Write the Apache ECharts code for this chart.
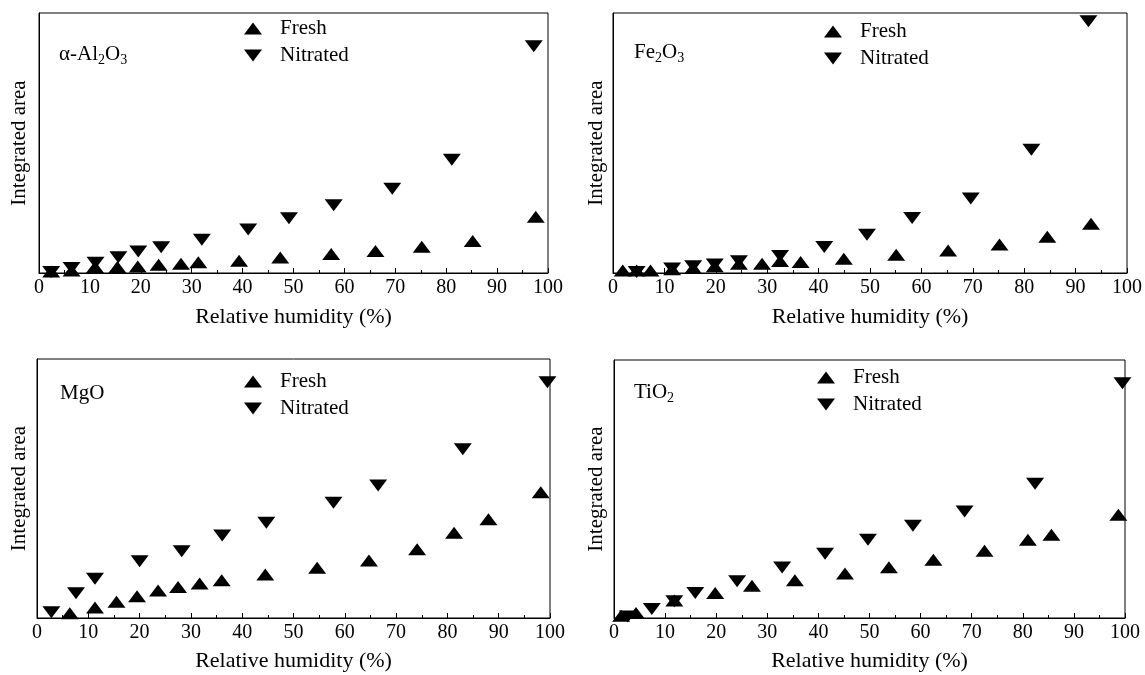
<!DOCTYPE html>
<html>
<head>
<meta charset="utf-8">
<script src="https://cdn.jsdelivr.net/npm/echarts@6/dist/echarts.min.js"></script>
<style>
  html, body { margin: 0; padding: 0; background: #fff; }
  #main { width: 1145px; height: 675px; }
</style>
</head>
<body>
<div id="main"></div>
<script>
// relative humidity (%) and integrated area (% of full y scale) per oxide
const al2o3FreshRH = [2.4, 6.4, 11.0, 15.4, 19.4, 23.5, 27.9, 31.3, 39.3, 47.4, 57.4, 66.1, 75.2, 85.2, 97.6];
const al2o3FreshArea = [0.6, 1.0, 2.3, 2.3, 2.5, 3.2, 3.6, 4.1, 4.7, 6.0, 7.3, 8.5, 10.1, 12.3, 21.6];
const al2o3NitratedRH = [2.4, 6.4, 11.1, 15.6, 19.5, 24.0, 32.0, 41.1, 49.1, 57.9, 69.4, 81.1, 97.2];
const al2o3NitratedArea = [0.4, 1.9, 3.9, 6.1, 8.3, 9.9, 12.8, 16.7, 21.1, 26.1, 32.4, 43.6, 87.2];

const fe2o3FreshRH = [1.9, 4.6, 7.3, 11.5, 15.6, 19.8, 24.5, 29.0, 32.5, 36.5, 44.9, 55.1, 65.2, 75.2, 84.5, 93.0];
const fe2o3FreshArea = [1.0, 1.0, 1.0, 1.4, 1.9, 2.6, 3.6, 3.6, 4.6, 4.2, 5.5, 7.0, 8.7, 11.0, 13.9, 18.9];
const fe2o3NitratedRH = [4.6, 11.5, 15.6, 19.8, 24.5, 32.5, 41.1, 49.4, 58.2, 69.6, 81.4, 92.5];
const fe2o3NitratedArea = [0.4, 1.7, 2.6, 3.3, 4.5, 6.5, 10.0, 14.7, 21.2, 28.7, 47.4, 96.8];

const mgoFreshRH = [6.4, 11.3, 15.5, 19.5, 23.6, 27.5, 31.7, 36.0, 44.5, 54.6, 64.7, 74.1, 81.3, 88.0, 98.2];
const mgoFreshArea = [1.8, 4.1, 6.3, 8.4, 10.6, 12.0, 13.3, 14.6, 16.8, 19.4, 22.2, 26.5, 32.9, 38.1, 48.6];
const mgoNitratedRH = [2.8, 7.6, 11.3, 20.0, 28.2, 36.1, 44.7, 57.8, 66.5, 83.0, 99.5];
const mgoNitratedArea = [2.2, 9.6, 15.2, 21.9, 25.8, 31.9, 36.8, 44.5, 51.2, 65.2, 91.0];

const tio2FreshRH = [1.4, 4.3, 11.8, 19.8, 27.0, 35.4, 45.2, 53.8, 62.5, 72.5, 81.0, 85.6, 98.7];
const tio2FreshArea = [0.9, 1.9, 6.8, 9.7, 12.5, 14.6, 17.2, 19.7, 22.6, 26.1, 30.3, 32.3, 40.0];
const tio2NitratedRH = [2.7, 7.4, 11.8, 15.9, 24.1, 32.9, 41.3, 49.7, 58.5, 68.6, 82.4, 99.5];
const tio2NitratedArea = [0.6, 3.5, 6.5, 9.7, 14.2, 19.6, 24.9, 30.3, 35.8, 41.3, 52.0, 91.0];

const xTicks = [0, 10, 20, 30, 40, 50, 60, 70, 80, 90, 100];
const legendNames = ['Fresh', 'Nitrated'];

const FONT = "'Liberation Serif', 'Times New Roman', serif";
const UP = 'path://M9,0L18,12L0,12Z';
const DOWN = 'path://M0,0L18,0L9,12Z';

const panels = [
  { label: 'α-Al{s|2}O{s|3}', fresh: [al2o3FreshRH, al2o3FreshArea], nitrated: [al2o3NitratedRH, al2o3NitratedArea],
    grid: { left: 39, top: 13, width: 509, height: 260 }, labelPos: [59, 41], legendPos: [244, 18], nameGap: 33, yGap: 9 },
  { label: 'Fe{s|2}O{s|3}', fresh: [fe2o3FreshRH, fe2o3FreshArea], nitrated: [fe2o3NitratedRH, fe2o3NitratedArea],
    grid: { left: 613, top: 13, width: 523, height: 260 }, labelPos: [634, 39], legendPos: [824, 21], nameGap: 33, yGap: 6 },
  { label: 'MgO', fresh: [mgoFreshRH, mgoFreshArea], nitrated: [mgoNitratedRH, mgoNitratedArea],
    grid: { left: 37, top: 359, width: 513, height: 259 }, labelPos: [60, 380], legendPos: [244, 371], nameGap: 32, yGap: 7 },
  { label: 'TiO{s|2}', fresh: [tio2FreshRH, tio2FreshArea], nitrated: [tio2NitratedRH, tio2NitratedArea],
    grid: { left: 614, top: 360, width: 511, height: 258 }, labelPos: [634, 379], legendPos: [817, 367], nameGap: 32, yGap: 7 }
];

function zip(xs, ys) {
  return xs.map((x, i) => [x, ys[i]]);
}

// white strips just outside each plot box so markers are cut at the frame
function frameMask(g) {
  const r = g.left + g.width, b = g.top + g.height;
  const rect = (x, y, w, h) => ({ type: 'rect', shape: { x, y, width: w, height: h }, style: { fill: '#fff' }, silent: true });
  return [
    rect(r + 1, g.top - 10, 12, g.height + 20),
    rect(g.left - 12, g.top - 10, 11, g.height + 20),
    rect(g.left - 12, b + 1, g.width + 25, 8),
    rect(g.left - 12, g.top - 10, g.width + 25, 9)
  ];
}

const option = {
  animation: false,
  backgroundColor: '#fff',
  textStyle: { fontFamily: FONT, color: '#000' },
  title: [], grid: [], xAxis: [], yAxis: [], legend: [], series: [],
  graphic: [{ type: 'group', z: 3, children: [] }]
};

panels.forEach((p, i) => {
  option.grid.push(Object.assign({ show: true, borderColor: '#000', borderWidth: 1 }, p.grid));
  option.graphic[0].children.push(...frameMask(p.grid));
  option.title.push({
    text: p.label, left: p.labelPos[0], top: p.labelPos[1], padding: 0,
    textStyle: {
      fontFamily: FONT, fontSize: 21, fontWeight: 'normal', color: '#000', lineHeight: 26,
      rich: { s: { fontFamily: FONT, fontSize: 14, lineHeight: 14, verticalAlign: 'bottom', color: '#000' } }
    }
  });
  option.xAxis.push({
    gridIndex: i, type: 'value', min: xTicks[0], max: xTicks[xTicks.length - 1], interval: 10, z: 5,
    axisLine: { lineStyle: { color: '#000', width: 1 } },
    axisTick: { inside: true, length: 5, lineStyle: { color: '#000' } },
    minorTick: { show: true, splitNumber: 2, length: 3, lineStyle: { color: '#000' } },
    axisLabel: { color: '#000', fontSize: 20, margin: 5, fontFamily: FONT },
    splitLine: { show: false },
    name: 'Relative humidity (%)', nameLocation: 'middle', nameGap: p.nameGap,
    nameTextStyle: { fontSize: 22, color: '#000', fontFamily: FONT }
  });
  option.yAxis.push({
    gridIndex: i, type: 'value', min: 0, max: 100, z: 5,
    axisLine: { show: true, lineStyle: { color: '#000', width: 1 } },
    axisTick: { show: false }, axisLabel: { show: false }, splitLine: { show: false },
    name: 'Integrated area', nameLocation: 'middle', nameGap: p.yGap,
    nameTextStyle: { fontSize: 21, color: '#000', fontFamily: FONT }
  });
  option.legend.push({
    orient: 'vertical', left: p.legendPos[0], top: p.legendPos[1], padding: 0,
    itemWidth: 18, itemHeight: 12, itemGap: 6, selectedMode: false,
    data: legendNames,
    textStyle: { fontSize: 21, color: '#000', fontFamily: FONT, padding: [0, 0, 0, 13] }
  });
  option.series.push({
    name: legendNames[0], type: 'scatter', xAxisIndex: i, yAxisIndex: i,
    symbol: UP, symbolSize: [18, 12], itemStyle: { color: '#000', opacity: 1 },
    data: zip(p.fresh[0], p.fresh[1])
  });
  option.series.push({
    name: legendNames[1], type: 'scatter', xAxisIndex: i, yAxisIndex: i,
    symbol: DOWN, symbolSize: [18, 12], itemStyle: { color: '#000', opacity: 1 },
    data: zip(p.nitrated[0], p.nitrated[1])
  });
});

const chart = echarts.init(document.getElementById('main'), null, { renderer: 'canvas' });
chart.setOption(option);
</script>
</body>
</html>
